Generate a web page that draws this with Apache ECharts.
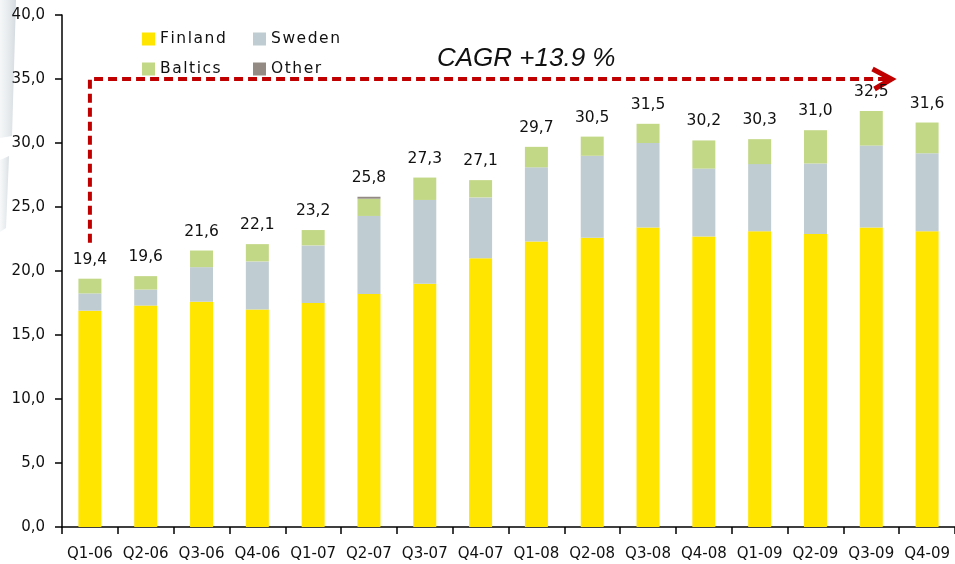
<!DOCTYPE html>
<html>
<head>
<meta charset="utf-8">
<script src="https://cdn.jsdelivr.net/npm/echarts@6.0.0/dist/echarts.min.js"></script>
<style>
  html, body { margin: 0; padding: 0; background: #fff; }
  #chart { width: 955px; height: 564px; }
</style>
</head>
<body>
<div id="chart"></div>
<script>
// quarters
const categories = ['Q1-06', 'Q2-06', 'Q3-06', 'Q4-06', 'Q1-07', 'Q2-07', 'Q3-07', 'Q4-07',
  'Q1-08', 'Q2-08', 'Q3-08', 'Q4-08', 'Q1-09', 'Q2-09', 'Q3-09', 'Q4-09']
const finland = [16.9, 17.3, 17.6, 17.0, 17.5, 18.2, 19.0, 21.0, 22.3, 22.6, 23.4, 22.7, 23.1, 22.9, 23.4, 23.1]
const sweden = [1.35, 1.25, 2.7, 3.75, 4.5, 6.1, 6.55, 4.75, 5.8, 6.4, 6.6, 5.3, 5.25, 5.5, 6.4, 6.1]
const baltics = [1.15, 1.05, 1.3, 1.35, 1.2, 1.35, 1.75, 1.35, 1.6, 1.5, 1.5, 2.2, 1.95, 2.6, 2.7, 2.4]
const other = [0, 0, 0, 0, 0, 0.15, 0, 0, 0, 0, 0, 0, 0, 0, 0, 0]
const totals = [19.4, 19.6, 21.6, 22.1, 23.2, 25.8, 27.3, 27.1, 29.7, 30.5, 31.5, 30.2, 30.3, 31.0, 32.5, 31.6]
const cagrText = 'CAGR +13.9 %'

const fmt = v => v.toFixed(1).replace('.', ',')
const font = 'DejaVu Sans'

const chart = echarts.init(document.getElementById('chart'), null, { renderer: 'canvas' })

function legendItem(name, left, top) {
  return {
    data: [name],
    left: left,
    top: top,
    padding: 0,
    itemWidth: 13,
    itemHeight: 13,
    icon: 'rect',
    selectedMode: false,
    formatter: n => n.split('').join('\u200A'),
    textStyle: { fontFamily: font, fontSize: 15.5, color: '#111' }
  }
}

const barBase = {
  type: 'bar',
  stack: 'sales',
  barWidth: 23,
  silent: true
}

const option = {
  animation: false,
  backgroundColor: '#fff',
  legend: [
    legendItem('Finland', 142, 31),
    legendItem('Sweden', 253, 31),
    legendItem('Baltics', 142, 61),
    legendItem('Other', 253, 61)
  ],
  grid: { left: 62, top: 15, width: 899, height: 512 },
  xAxis: {
    type: 'category',
    data: categories,
    axisLine: { lineStyle: { color: '#000', width: 1.5 } },
    axisTick: { show: true, length: 7, lineStyle: { color: '#000', width: 1.5 } },
    axisLabel: { interval: 0, margin: 20, fontFamily: font, fontSize: 15, color: '#111' }
  },
  yAxis: {
    type: 'value',
    min: 0,
    max: 40,
    interval: 5,
    splitLine: { show: false },
    axisLine: { show: true, lineStyle: { color: '#000', width: 1.5 } },
    axisTick: { show: true, length: 7, lineStyle: { color: '#000', width: 1.5 } },
    axisLabel: { margin: 17, fontFamily: font, fontSize: 15, color: '#111', formatter: v => fmt(v) }
  },
  series: [
    Object.assign({ name: 'Finland', data: finland, itemStyle: { color: '#FFE500' } }, barBase),
    Object.assign({ name: 'Sweden', data: sweden, itemStyle: { color: '#BFCCD1' } }, barBase),
    Object.assign({ name: 'Baltics', data: baltics, itemStyle: { color: '#C3D887' } }, barBase),
    Object.assign({ name: 'Other', data: other, itemStyle: { color: '#928A83' } }, barBase),
    {
      name: 'Total',
      type: 'bar',
      data: totals,
      barWidth: 23,
      barGap: '-100%',
      silent: true,
      itemStyle: { color: 'rgba(0,0,0,0)' },
      label: {
        show: true,
        position: 'top',
        distance: 11,
        fontFamily: font,
        fontSize: 15.5,
        color: '#111',
        formatter: p => fmt(totals[p.dataIndex])
      }
    }
  ]
}

chart.setOption(option)

// CAGR arrow, anchored to the axes
const band = 899 / categories.length
const pStart = chart.convertToPixel({ seriesIndex: 0 }, [0, 22.2])
const pCorner = chart.convertToPixel({ seriesIndex: 0 }, [0, 35])
const pEnd = chart.convertToPixel({ seriesIndex: 0 }, [14, 35])
const tipX = pEnd[0] + band * 0.36
const red = '#C00000'

chart.setOption({
  graphic: [
    {
      type: 'polygon',
      silent: true,
      shape: { points: [[0, 0], [16, 0], [12, 136], [0, 138]] },
      style: {
        fill: new echarts.graphic.LinearGradient(0, 0, 1, 0, [
          { offset: 0, color: 'rgba(235,239,241,0.5)' },
          { offset: 1, color: '#d3dadf' }
        ])
      }
    },
    {
      type: 'polygon',
      silent: true,
      shape: { points: [[0, 160], [9, 156], [6, 228], [0, 232]] },
      style: {
        fill: new echarts.graphic.LinearGradient(0, 0, 1, 0, [
          { offset: 0, color: 'rgba(235,239,241,0.4)' },
          { offset: 1, color: '#d9dfe3' }
        ])
      }
    },
    {
      type: 'polyline',
      silent: true,
      shape: { points: [pStart, pCorner, [tipX - 4, pCorner[1]]] },
      style: { stroke: red, lineWidth: 4, lineDash: [9, 5], fill: null }
    },
    {
      type: 'polyline',
      silent: true,
      shape: { points: [[tipX - 19, pCorner[1] - 10], [tipX, pCorner[1]], [tipX - 17, pCorner[1] + 10]] },
      style: { stroke: red, lineWidth: 5, fill: null }
    },
    {
      type: 'text',
      silent: true,
      left: 437,
      top: 46,
      style: {
        text: cagrText,
        font: 'italic 26px "Liberation Sans", Arial, sans-serif',
        fill: '#111'
      }
    }
  ]
})
</script>
</body>
</html>
